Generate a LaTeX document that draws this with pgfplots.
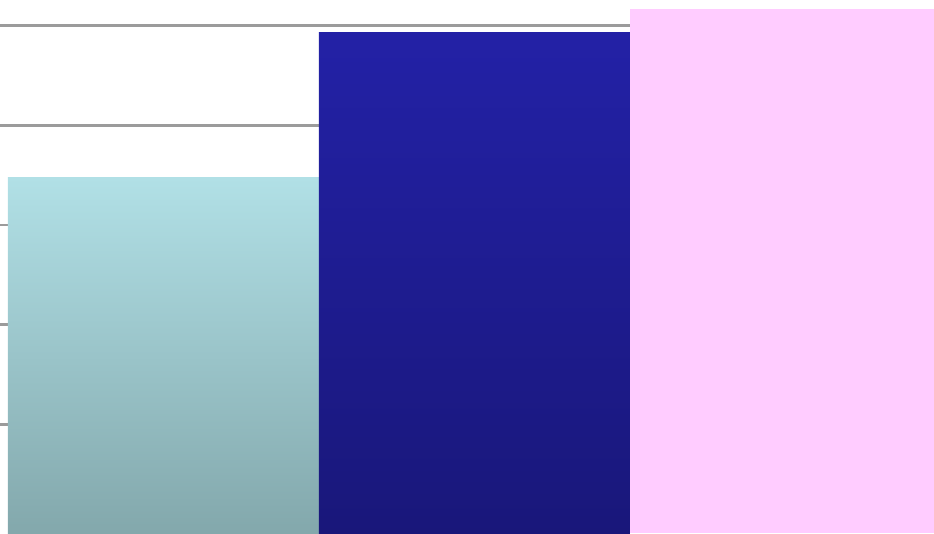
\documentclass[border=0pt]{standalone}
\usepackage{pgfplots}
\pgfplotsset{compat=1.18}
\definecolor{tealtop}{RGB}{177,224,230}
\definecolor{tealbot}{RGB}{131,168,172}
\definecolor{navytop}{RGB}{35,33,166}
\definecolor{navybot}{RGB}{25,23,122}
\definecolor{pinkbar}{RGB}{255,204,255}
\definecolor{gridgray}{RGB}{155,155,155}
\begin{document}
\begin{tikzpicture}
\begin{axis}[
  scale only axis,
  width=9.34cm, height=5.33cm,
  xmin=-0.5257, xmax=2.4775,
  ymin=0, ymax=5.348,
  ytick={1.09,2.09,3.09,4.09,5.09},
  yticklabels={},
  xtick=\empty,
  ymajorgrids,
  grid style={gridgray, line width=0.7pt},
  major tick length=0pt,
  axis line style={draw=none},
  ybar, bar width=3.11cm,
  bar shift=0pt,
]
\addplot[draw=none, top color=tealtop, bottom color=tealbot] coordinates {(0,3.57)};
\addplot[draw=none, top color=navytop, bottom color=navybot] coordinates {(1,5.02)};
\addplot[draw=none, fill=pinkbar] coordinates {(2,5.255)};
\end{axis}
\pgfresetboundingbox
\path[use as bounding box] (current axis.south west) rectangle (current axis.north east);
\end{tikzpicture}
\end{document}
